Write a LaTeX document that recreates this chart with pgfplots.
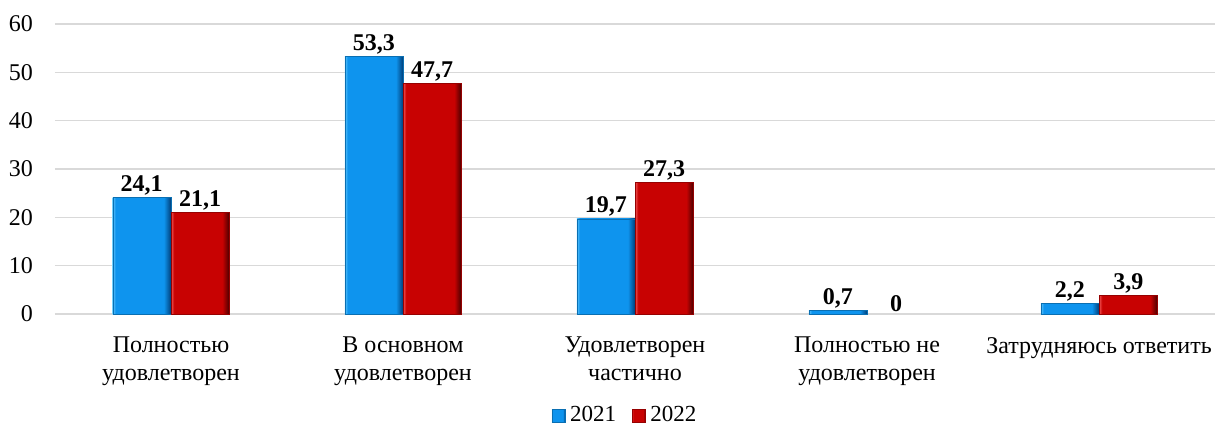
\documentclass[border=0pt]{standalone}
\usepackage{fontspec}
\setmainfont{Liberation Serif}
\usepackage{pgfplots}
\pgfplotsset{compat=1.18}

\definecolor{bblue}{RGB}{14,148,238}
\definecolor{bbluel}{RGB}{95,198,252}
\definecolor{bblued}{RGB}{0,65,125}
\definecolor{rred}{RGB}{200,2,2}
\definecolor{rredl}{RGB}{240,80,80}
\definecolor{rredd}{RGB}{75,0,0}
\definecolor{gridc}{RGB}{217,217,217}

\pgfdeclarehorizontalshading{blueshade}{100bp}{color(0bp)=(bbluel); color(25bp)=(bbluel); color(27.5bp)=(bblue); color(69bp)=(bblue); color(75bp)=(bblued); color(100bp)=(bblued)}
\pgfdeclarehorizontalshading{redshade}{100bp}{color(0bp)=(rredl); color(25bp)=(rredl); color(27.5bp)=(rred); color(69bp)=(rred); color(75bp)=(rredd); color(100bp)=(rredd)}

\pgfplotsset{
  bluebar/.style={bar shift=-0.126, shade, shading=blueshade, draw=bblue!75!black, line width=0.4pt, forget plot},
  redbar/.style={bar shift=0.126, shade, shading=redshade, draw=rred!75!black, line width=0.4pt, forget plot},
}

\begin{document}
\fontsize{24}{28}\selectfont
\begin{tikzpicture}
\begin{axis}[
  scale only axis,
  width=1160pt, height=290pt,
  xmin=-0.5, xmax=4.5,
  ymin=0, ymax=60,
  ytick={0,10,...,60},
  xtick={0,1,2,3,4},
  xticklabels={{Полностью\\удовлетворен},{В основном\\удовлетворен},{Удовлетворен\\частично},{Полностью не\\удовлетворен},{Затрудняюсь ответить}},
  xticklabel style={align=center, font=\fontsize{24}{28}\selectfont, yshift=-15pt},
  yticklabel style={font=\fontsize{24}{28}\selectfont, xshift=-14pt},
  /pgf/number format/assume math mode=true,
  axis line style={draw=none},
  major tick length=0pt,
  ymajorgrids,
  major grid style={draw=gridc, line width=1.3pt},
  ybar,
  bar width=0.25,
  nodes near coords,
  nodes near coords style={font=\fontsize{24}{28}\selectfont\bfseries, inner sep=2pt, /pgf/number format/.cd, use comma, fixed, precision=1, assume math mode=true},
  clip=false,
  legend columns=2,
  legend style={at={(0.4914,-0.35)}, anchor=center, draw=none, font=\fontsize{23}{27}\selectfont,
    nodes={inner sep=2pt}, column sep=3pt, /tikz/every even column/.style={column sep=14pt}},
  legend image code/.code={\path[#1] (0pt,-6.5pt) rectangle (13pt,6.5pt);},
]
% 2021
\addplot[bluebar] coordinates {(0,24.1)};
\addplot[bluebar] coordinates {(1,53.3)};
\addplot[bluebar] coordinates {(2,19.7)};
\addplot[bluebar] coordinates {(3,0.7)};
\addplot[bluebar] coordinates {(4,2.2)};
% 2022
\addplot[redbar] coordinates {(0,21.1)};
\addplot[redbar] coordinates {(1,47.7)};
\addplot[redbar] coordinates {(2,27.3)};
\addplot[bar shift=0.126, draw=none, fill=none, forget plot] coordinates {(3,0)};
\addplot[redbar] coordinates {(4,3.9)};
\addlegendimage{shade, shading=blueshade, draw=bblue!75!black, line width=0.4pt}
\addlegendentry{2021}
\addlegendimage{shade, shading=redshade, draw=rred!75!black, line width=0.4pt}
\addlegendentry{2022}
\path (rel axis cs:-0.0474,-0.4) rectangle (rel axis cs:1.0043,1.0828);
\end{axis}
\end{tikzpicture}
\end{document}
